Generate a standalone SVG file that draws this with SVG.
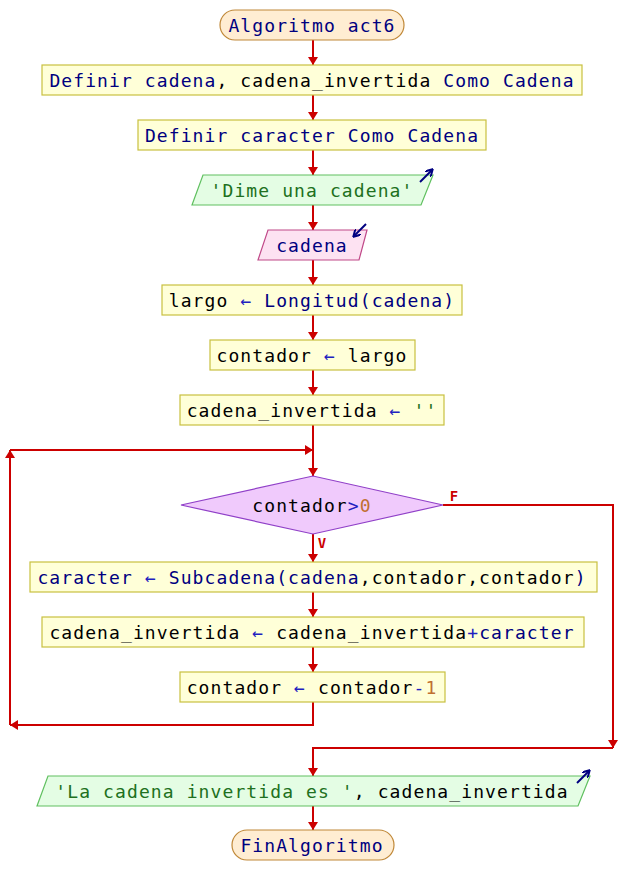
<svg xmlns="http://www.w3.org/2000/svg" width="624" height="895" viewBox="0 0 624 895">
<style>
text{font-family:"DejaVu Sans Mono","Liberation Mono",monospace;font-size:18px;letter-spacing:1.1px;text-anchor:middle;fill:#000000}
.k{fill:#000080}
.s{fill:#207020}
.n{fill:#c07030}
.o{fill:#2020c0}
.term{fill:#ffedd2;stroke:#c08838;stroke-width:1.2}
.proc{fill:#ffffd8;stroke:#c8c040;stroke-width:1.2}
.out{fill:#e4fde4;stroke:#60c060;stroke-width:1.2}
.inp{fill:#fde2f2;stroke:#c04888;stroke-width:1.2}
.dec{fill:#f0cafc;stroke:#9040c8;stroke-width:1.2}
.ln{fill:none;stroke:#cc0000;stroke-width:2;marker-end:url(#ah)}
.ic{fill:none;stroke:#000080;stroke-width:2;marker-end:url(#ih)}
.lab{font-family:"DejaVu Sans Mono",monospace;font-size:14px;font-weight:bold;fill:#cc0000;letter-spacing:0}
</style>
<defs>
<marker id="ah" markerUnits="userSpaceOnUse" markerWidth="8" markerHeight="10" refX="8" refY="5" orient="auto" viewBox="0 0 8 10"><path d="M0,0 L8,5 L0,10 z" fill="#cc0000"/></marker>
<marker id="ih" markerUnits="userSpaceOnUse" markerWidth="8" markerHeight="8" refX="6" refY="4" orient="auto" viewBox="0 0 8 8"><path d="M0,0 L7,4 L0,8" fill="none" stroke="#000080" stroke-width="2"/></marker>
</defs>
<g id="connectors">
<line class="ln" x1="313" y1="40" x2="313" y2="65"/>
<line class="ln" x1="313" y1="95" x2="313" y2="120"/>
<line class="ln" x1="313" y1="150" x2="313" y2="175"/>
<line class="ln" x1="313" y1="205" x2="313" y2="230"/>
<line class="ln" x1="313" y1="260" x2="313" y2="285"/>
<line class="ln" x1="313" y1="315" x2="313" y2="340"/>
<line class="ln" x1="313" y1="370" x2="313" y2="395"/>
<line class="ln" x1="313" y1="425" x2="313" y2="476"/>
<polyline class="ln" points="313,702 313,725 10,725"/>
<line class="ln" x1="10" y1="725" x2="10" y2="450"/>
<line class="ln" x1="10" y1="450" x2="313" y2="450"/>
<line class="ln" x1="313" y1="534" x2="313" y2="562"/>
<line class="ln" x1="313" y1="592" x2="313" y2="617"/>
<line class="ln" x1="313" y1="647" x2="313" y2="672"/>
<polyline class="ln" points="443,505 613,505 613,748"/>
<polyline class="ln" points="613,748 313,748 313,776"/>
<line class="ln" x1="313" y1="806" x2="313" y2="830"/>
<text class="lab" x="454" y="501">F</text>
<text class="lab" x="322" y="548">V</text>
</g>
<g id="start"><rect class="term" x="220" y="10" width="184" height="30" rx="15"/><text x="312" y="32" class="k">Algoritmo act6</text></g>
<g id="def1"><rect class="proc" x="42" y="65" width="540" height="30"/><text x="312" y="87"><tspan class="k">Definir cadena</tspan>, cadena_invertida <tspan class="k">Como Cadena</tspan></text></g>
<g id="def2"><rect class="proc" x="138" y="120" width="348" height="30"/><text x="312" y="142" class="k">Definir caracter Como Cadena</text></g>
<g id="out1"><polygon class="out" points="203,175 433,175 421,205 192,205"/><text x="312" y="197" class="s">'Dime una cadena'</text><line class="ic" x1="420" y1="182" x2="432" y2="170"/></g>
<g id="in1"><polygon class="inp" points="268,230 367,230 359,260 258,260"/><text x="312" y="252" class="k">cadena</text><line class="ic" x1="366" y1="224" x2="354" y2="236"/></g>
<g id="a1"><rect class="proc" x="162" y="285" width="300" height="30"/><text x="312" y="307">largo <tspan class="o">←</tspan> <tspan class="k">Longitud(cadena)</tspan></text></g>
<g id="a2"><rect class="proc" x="210" y="340" width="205" height="30"/><text x="312" y="362">contador <tspan class="o">←</tspan> largo</text></g>
<g id="a3"><rect class="proc" x="180" y="395" width="264" height="30"/><text x="312" y="417">cadena_invertida <tspan class="o">←</tspan> <tspan class="s">''</tspan></text></g>
<g id="cond"><polygon class="dec" points="181,505 313,476 443,505 313,534"/><text x="312" y="512">contador<tspan class="o">&gt;</tspan><tspan class="n">0</tspan></text></g>
<g id="b1"><rect class="proc" x="30" y="562" width="567" height="30"/><text x="312" y="584"><tspan class="k">caracter</tspan> <tspan class="o">←</tspan> <tspan class="k">Subcadena(cadena</tspan>,contador,contador<tspan class="k">)</tspan></text></g>
<g id="b2"><rect class="proc" x="42" y="617" width="542" height="30"/><text x="312" y="639">cadena_invertida <tspan class="o">←</tspan> cadena_invertida<tspan class="o">+</tspan><tspan class="k">caracter</tspan></text></g>
<g id="b3"><rect class="proc" x="180" y="672" width="265" height="30"/><text x="312" y="694">contador <tspan class="o">←</tspan> contador<tspan class="o">-</tspan><tspan class="n">1</tspan></text></g>
<g id="out2"><polygon class="out" points="48,776 590,776 578,806 37,806"/><text x="312" y="798"><tspan class="s">'La cadena invertida es '</tspan>, cadena_invertida</text><line class="ic" x1="577" y1="783" x2="589" y2="771"/></g>
<g id="end"><rect class="term" x="232" y="830" width="162" height="30" rx="15"/><text x="312" y="852" class="k">FinAlgoritmo</text></g>
</svg>
